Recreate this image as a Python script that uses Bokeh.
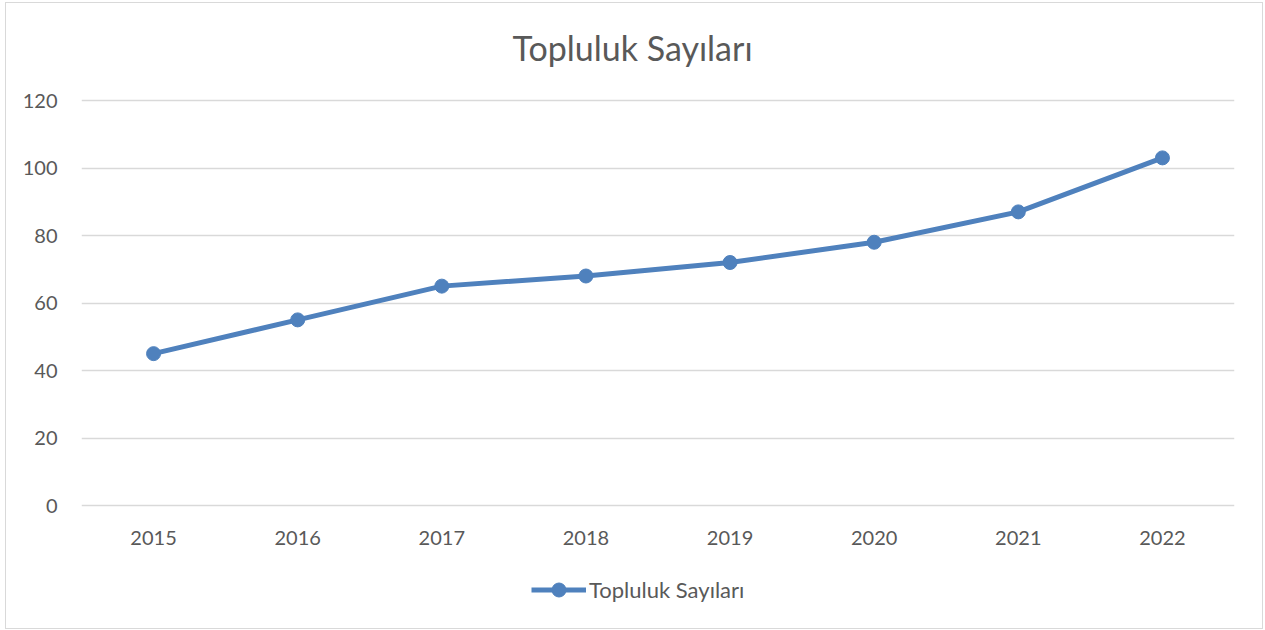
from bokeh.plotting import figure
from bokeh.models import Legend, LegendItem, Range1d, Label
from bokeh.embed import file_html
from bokeh.resources import INLINE

years = ["2015", "2016", "2017", "2018", "2019", "2020", "2021", "2022"]
values = [45, 55, 65, 68, 72, 78, 87, 103]
series_name = "Topluluk Sayıları"
chart_title = "Topluluk Sayıları"
y_ticks = [0, 20, 40, 60, 80, 100, 120]

FONT = "Lato"
GRAY = "#595959"
BLUE = "#4F81BD"

W, H = 1258, 627
TOP, BOTTOM, LEFT, RIGHT = 2, 5, 75, 30
TOP_PX, ZERO_PX = 97, 502  # pixel rows of y=120 and y=0 within figure
unit = (ZERO_PX - TOP_PX) / 120.0
y_end = 120 + (TOP_PX - TOP) / unit
y_start = -((H - BOTTOM) - ZERO_PX) / unit

p = figure(width=W, height=H, x_range=years, y_range=Range1d(y_start, y_end),
           output_backend="svg", toolbar_location=None,
           min_border_left=LEFT, min_border_right=RIGHT,
           min_border_top=TOP, min_border_bottom=BOTTOM)
p.margin = (2, 0, 0, 5)
p.styles = {"border": "1px solid #D9D9D9"}

title = Label(x=431, y=578, x_units="screen", y_units="screen", text=chart_title,
              text_font=FONT, text_font_size="34px", text_color=GRAY,
              text_align="left", text_baseline="middle")
p.add_layout(title)

p.outline_line_color = None
p.xgrid.grid_line_color = None
p.ygrid.grid_line_color = "#D9D9D9"
p.ygrid.grid_line_width = 1.3
p.yaxis.ticker = y_ticks
p.xaxis.fixed_location = 0

for ax in (p.xaxis, p.yaxis):
    ax.axis_line_color = None
    ax.major_tick_line_color = None
    ax.minor_tick_line_color = None
    ax.major_label_text_font = FONT
    ax.major_label_text_font_size = "20px"
    ax.major_label_text_color = GRAY
p.yaxis.major_label_standoff = 18
p.xaxis.major_label_standoff = 19

ln = p.line(years, values, line_color=BLUE, line_width=5)
sc = p.scatter(years, values, marker="circle", size=14, fill_color=BLUE, line_color=BLUE)

legend = Legend(items=[LegendItem(label=series_name, renderers=[ln, sc])],
                location=(450, 18), orientation="horizontal",
                label_text_font=FONT, label_text_font_size="22px", label_text_color=GRAY,
                glyph_width=55, glyph_height=35, label_standoff=3,
                border_line_color=None, background_fill_alpha=0,
                margin=0, padding=0)
p.add_layout(legend, "center")

open("out.html", "w").write(file_html(p, INLINE))
